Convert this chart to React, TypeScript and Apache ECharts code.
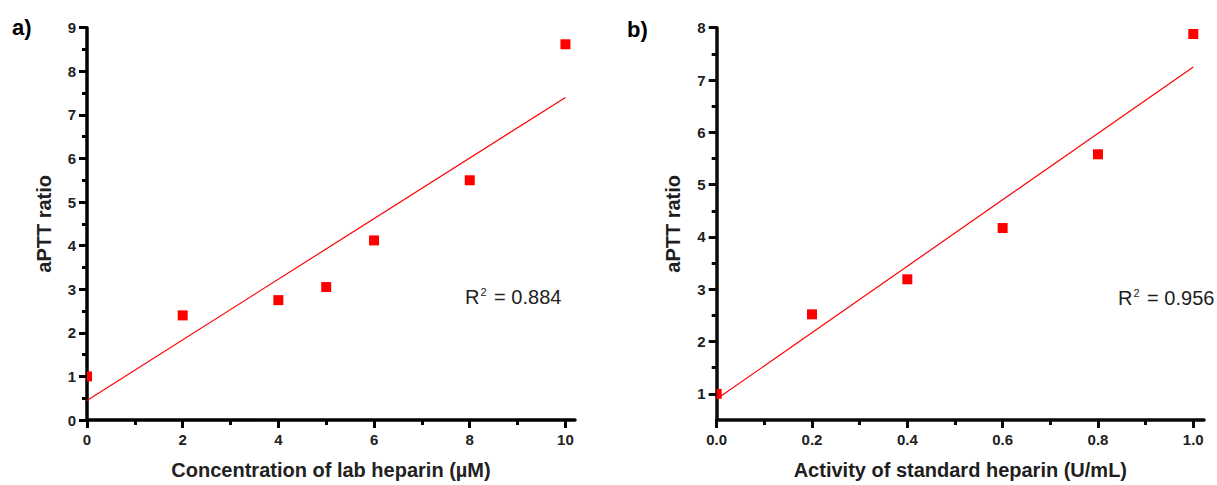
import React, { useEffect, useRef } from "react";
import * as echarts from "echarts";

// ---- data ----
const leftX = [0, 2, 4, 5, 6, 8, 10];
const leftY = [1.0, 2.4, 2.75, 3.05, 4.12, 5.5, 8.62];
const leftFit = [
  [0, 0.45],
  [10, 7.4],
];
const leftXMajor = [0, 2, 4, 6, 8, 10];
const leftXMinor = [1, 3, 5, 7, 9];
const leftYMajor = [0, 1, 2, 3, 4, 5, 6, 7, 8, 9];
const leftYMinor = [0.5, 1.5, 2.5, 3.5, 4.5, 5.5, 6.5, 7.5, 8.5];

const rightX = [0, 0.2, 0.4, 0.6, 0.8, 1.0];
const rightY = [1.0, 2.52, 3.19, 4.17, 5.58, 7.88];
const rightFit = [
  [0, 0.9],
  [1.0, 7.25],
];
const rightXMajor = [0, 0.2, 0.4, 0.6, 0.8, 1.0];
const rightXMinor = [0.1, 0.3, 0.5, 0.7, 0.9];
const rightYMajor = [1, 2, 3, 4, 5, 6, 7, 8];
const rightYMinor = [1.5, 2.5, 3.5, 4.5, 5.5, 6.5, 7.5];

const leftXName = "Concentration of lab heparin (µM)";
const rightXName = "Activity of standard heparin (U/mL)";
const yName = "aPTT ratio";
const leftR2 = "0.884";
const rightR2 = "0.956";

const FONT = "'Liberation Sans', Arial, sans-serif";
const RED = "#ff0000";

function mainAxis(
  dim: "x" | "y",
  gridIndex: number,
  min: number,
  max: number,
  majors: number[],
  name: string,
  nameGap: number,
  axColor: string,
  txtColor: string,
  fmt?: (v: number) => string
) {
  const label: any = {
    show: true,
    customValues: majors,
    margin: dim === "x" ? 12 : 11,
    fontFamily: FONT,
    fontSize: 15,
    fontWeight: "bold",
    color: txtColor,
  };
  if (fmt) label.formatter = (v: number) => fmt(v);
  return {
    type: "value",
    gridIndex,
    min,
    max,
    position: dim === "x" ? "bottom" : "left",
    name,
    nameLocation: "middle",
    nameGap,
    nameRotate: dim === "y" ? 90 : 0,
    nameTextStyle: {
      fontFamily: FONT,
      fontSize: 20,
      fontWeight: "bold",
      color: txtColor,
    },
    axisLine: {
      show: true,
      onZero: false,
      lineStyle: { color: axColor, width: 3.5, opacity: 1 },
    },
    axisTick: {
      show: true,
      inside: false,
      length: 8,
      customValues: majors,
      lineStyle: { color: axColor, width: 3, opacity: 1 },
    },
    axisLabel: label,
    splitLine: { show: false },
  };
}

function minorAxis(
  dim: "x" | "y",
  gridIndex: number,
  min: number,
  max: number,
  minors: number[],
  axColor: string
) {
  return {
    type: "value",
    gridIndex,
    min,
    max,
    position: dim === "x" ? "bottom" : "left",
    axisLine: { show: false, onZero: false },
    axisTick: {
      show: true,
      inside: false,
      length: 5,
      customValues: minors,
      lineStyle: { color: axColor, width: 3, opacity: 1 },
    },
    axisLabel: { show: false },
    splitLine: { show: false },
  };
}

function r2Text(x: number, y: number, val: string, color: string) {
  return {
    type: "text",
    x,
    y,
    style: {
      text: `{a|R}{s|2}{a| = ${val}}`,
      verticalAlign: "middle",
      rich: {
        a: { fontFamily: FONT, fontSize: 20, fill: color, lineHeight: 22 },
        s: {
          fontFamily: FONT,
          fontSize: 11,
          fill: color,
          lineHeight: 22,
          verticalAlign: "top",
          padding: [0, 2, 6, 1],
        },
      },
    },
  };
}

// square markers clipped to the plot area (half-hidden at x = 0 like the original)
function squareSeries(axisIdx: number, xs: number[], ys: number[]) {
  return {
    type: "custom",
    xAxisIndex: axisIdx,
    yAxisIndex: axisIdx,
    data: xs.map((x, i) => [x, ys[i]]),
    z: 3,
    renderItem: (params: any, api: any) => {
      const p = api.coord([api.value(0), api.value(1)]);
      const s = 10;
      const shape = echarts.graphic.clipRectByRect(
        { x: p[0] - s / 2, y: p[1] - s / 2, width: s, height: s },
        {
          x: params.coordSys.x,
          y: params.coordSys.y,
          width: params.coordSys.width,
          height: params.coordSys.height,
        }
      );
      if (!shape) return null;
      return { type: "rect", shape, style: { fill: RED } };
    },
  };
}

export default function App() {
  const ref = useRef<HTMLDivElement>(null);

  useEffect(() => {
    if (!ref.current) return;
    const chart = echarts.init(ref.current, null, { renderer: "svg" });
    const AXL = "#000000";
    const TXL = "#222222";
    const AXR = "#0a0a0a";
    const TXR = "#1e1e1e";
    const option = {
      animation: false,
      backgroundColor: "#fff",
      grid: [
        { left: 87, top: 27.7, width: 488, height: 394 },
        { left: 716.7, top: 27.7, width: 487.3, height: 394 },
      ],
      xAxis: [
        mainAxis("x", 0, 0, 10.2, leftXMajor, leftXName, 40, AXL, TXL),
        minorAxis("x", 0, 0, 10.2, leftXMinor, AXL),
        mainAxis("x", 1, 0, 1.0225, rightXMajor, rightXName, 40, AXR, TXR, (v) => v.toFixed(1)),
        minorAxis("x", 1, 0, 1.0225, rightXMinor, AXR),
      ],
      yAxis: [
        mainAxis("y", 0, 0, 9, leftYMajor, yName, 33, AXL, TXL),
        minorAxis("y", 0, 0, 9, leftYMinor, AXL),
        mainAxis("y", 1, 0.5, 8, rightYMajor, yName, 34, AXR, TXR),
        minorAxis("y", 1, 0.5, 8, rightYMinor, AXR),
      ],
      series: [
        {
          type: "line",
          xAxisIndex: 0,
          yAxisIndex: 0,
          data: leftFit,
          showSymbol: false,
          symbol: "none",
          lineStyle: { color: RED, width: 1.2 },
          z: 2,
        },
        squareSeries(0, leftX, leftY),
        {
          type: "line",
          xAxisIndex: 2,
          yAxisIndex: 2,
          data: rightFit,
          showSymbol: false,
          symbol: "none",
          lineStyle: { color: RED, width: 1.2 },
          z: 2,
        },
        squareSeries(2, rightX, rightY),
      ],
      graphic: [
        {
          type: "text",
          x: 12,
          y: 16,
          style: { text: "a)", fontFamily: FONT, fontSize: 22, fontWeight: "bold", fill: "#000" },
        },
        {
          type: "text",
          x: 627,
          y: 18,
          style: { text: "b)", fontFamily: FONT, fontSize: 22, fontWeight: "bold", fill: "#000" },
        },
        r2Text(465, 297, leftR2, TXL),
        r2Text(1118, 298, rightR2, TXR),
      ],
    };
    chart.setOption(option as any);
    return () => chart.dispose();
  }, []);

  return (
    <div
      ref={ref}
      style={{ position: "absolute", left: 0, top: 0, width: 1217, height: 485 }}
    />
  );
}
